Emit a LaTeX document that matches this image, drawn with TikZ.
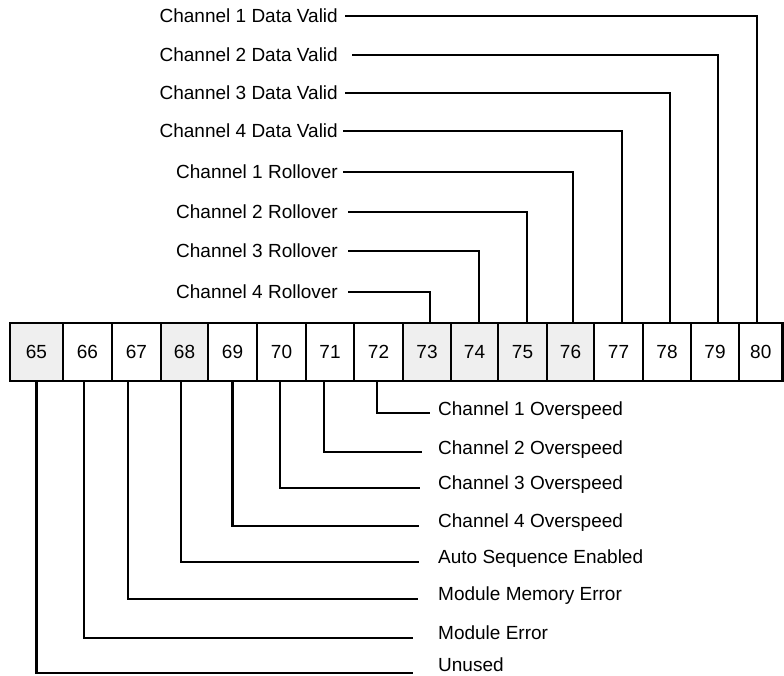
\documentclass[tikz,border=0pt]{standalone}
\usepackage{fontspec}
\setmainfont{Liberation Sans}
\definecolor{bitgray}{HTML}{EFEFEF}
\tikzset{
  bitbox/.style={draw,line width=2.2pt,minimum height=58pt,inner sep=0pt,text height=13.6pt,text depth=0pt},
  uplabel/.style={anchor=east,inner sep=0pt,text height=13.6pt,text depth=0pt},
  lowlabel/.style={anchor=west,inner sep=0pt,text height=13.6pt,text depth=0pt},
  wire/.style={line width=2.2pt}
}
\begin{document}
\begin{tikzpicture}[x=1pt,y=-1pt,font=\fontsize{19}{22}\selectfont]
\useasboundingbox (0,0) rectangle (784,676);
% bit boxes
\foreach \n/\l/\r/\f in {65/10/63/bitgray,66/63/112/white,67/112/161/white,68/161/208/bitgray,
  69/208/257/white,70/257/306/white,71/306/354/white,72/354/403/white,
  73/403/451/bitgray,74/451/498/bitgray,75/498/547/bitgray,76/547/594/bitgray,
  77/594/643/white,78/643/691/white,79/691/739/white,80/739/782.5/white}{
  \pgfmathsetmacro{\w}{\r-\l}
  \pgfmathsetmacro{\c}{(\l+\r)/2}
  \node[bitbox,fill=\f,minimum width=\w pt] (b\n) at (\c,352) {\n};
}
% upper bits
\foreach \n/\t/\y/\dx/\g in {80/Channel 1 Data Valid/16/-4/7,79/Channel 2 Data Valid/55/3/14,
  78/Channel 3 Data Valid/93/3/7,77/Channel 4 Data Valid/131/3.5/5,
  76/Channel 1 Rollover/172/2.5/5,75/Channel 2 Rollover/212/4.5/10,
  74/Channel 3 Rollover/251/4.5/10,73/Channel 4 Rollover/292/3/10}{
  \node[uplabel] (l\n) at (338,\y) {\t};
  \draw[wire] ([xshift=\g pt]l\n.east) -| ([xshift=\dx pt]b\n.north);
}
% lower bits
\foreach \n/\t/\y/\dx/\g/\o in {72/Channel 1 Overspeed/413/-1.5/8/4,71/Channel 2 Overspeed/452/-6/16/4,
  70/Channel 3 Overspeed/488/-1.5/18/5,69/Channel 4 Overspeed/526/0/19/5,
  68/Auto Sequence Enabled/562/-3.5/19/5,67/Module Memory Error/599/-8.5/20/5,
  66/Module Error/638/-3.5/25/5,65/Unused/673/0/25/8}{
  \node[lowlabel] (l\n) at (438,\y-\o) {\t};
  \draw[wire] ([xshift=\dx pt]b\n.south) |- ([xshift=-\g pt,yshift=-\o pt]l\n.west);
}
\end{tikzpicture}
\end{document}
